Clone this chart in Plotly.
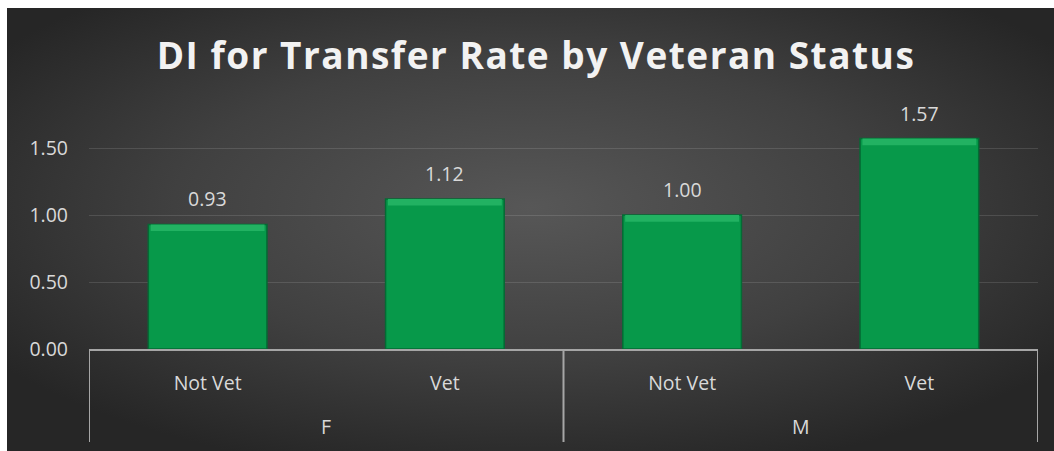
import base64
import plotly.graph_objects as go

# Chart data
groups = ["F", "F", "M", "M"]
statuses = ["Not Vet", "Vet", "Not Vet", "Vet"]
di_values = [0.93, 1.12, 1.00, 1.57]
y_ticks = [0.0, 0.5, 1.0, 1.5]
y_tick_text = ["0.00", "0.50", "1.00", "1.50"]
title_text = "DI for Transfer Rate by Veteran Status"

W, H = 1054, 451
L, R, T, B = 89, 16, 81, 102
plot_w = W - L - R
plot_h = H - T - B

BAR_GREEN = "#07994a"
BAR_EDGE = "#046b34"
BEVEL = "#22b262"
TEXT = "#d9d9d9"
AXIS_GRAY = "#a6a6a6"
FONT = "Open Sans"

# Radial-gradient backdrop for the dark chart panel
svg = (
    '<svg xmlns="http://www.w3.org/2000/svg" width="1047" height="443" '
    'viewBox="0 0 1047 443" preserveAspectRatio="none">'
    '<defs><radialGradient id="g" cx="50%" cy="45%" r="62%" fx="50%" fy="45%">'
    '<stop offset="0%" stop-color="#575757"/>'
    '<stop offset="55%" stop-color="#404040"/>'
    '<stop offset="100%" stop-color="#262626"/>'
    '</radialGradient></defs>'
    '<rect width="1047" height="443" fill="url(#g)"/></svg>'
)
bg_uri = "data:image/svg+xml;base64," + base64.b64encode(svg.encode()).decode()
panel_x0, panel_y0 = 7, 8

xs = list(range(len(di_values)))

fig = go.Figure()
fig.add_trace(go.Bar(
    x=xs, y=di_values, width=0.5,
    marker=dict(color=BAR_GREEN, line=dict(color=BAR_EDGE, width=1.5)),
    hoverinfo="skip", showlegend=False,
))
# Light bevel strip along the top of each bar
bevel_h = 0.05
fig.add_trace(go.Bar(
    x=xs, y=[bevel_h] * len(di_values),
    base=[v - bevel_h for v in di_values], width=0.48,
    marker=dict(color=BEVEL, line=dict(width=0)),
    hoverinfo="skip", showlegend=False,
))

# Value labels above bars
for x, v in zip(xs, di_values):
    fig.add_annotation(
        x=x, y=v, text=f"{v:.2f}", showarrow=False,
        yanchor="bottom", yshift=10,
        font=dict(family=FONT, size=19.5, color=TEXT),
    )

# Outer category level (group names) and the dividers between groups
divider_depth = 93 / plot_h
group_names = list(dict.fromkeys(groups))
edges = [-0.5]
for name in group_names:
    idx = [i for i, g in enumerate(groups) if g == name]
    fig.add_annotation(
        x=sum(idx) / len(idx), y=-77 / plot_h, xref="x", yref="paper",
        text=name, showarrow=False, yanchor="middle",
        font=dict(family=FONT, size=19.5, color=TEXT),
    )
    edges.append(max(idx) + 0.5)
for e in edges:
    fig.add_shape(
        type="line", xref="x", yref="paper",
        x0=e, x1=e, y0=0, y1=-divider_depth,
        line=dict(color=AXIS_GRAY, width=2),
    )

fig.update_layout(
    width=W, height=H,
    margin=dict(l=L, r=R, t=T, b=B),
    paper_bgcolor="white",
    plot_bgcolor="rgba(0,0,0,0)",
    barmode="overlay",
    title=dict(
        text=f'<span style="letter-spacing:1.5px">{title_text}</span>',
        x=536 / W, xanchor="center",
        y=1 - 56 / H, yanchor="middle",
        font=dict(family=FONT, size=37, weight=700, color="#f2f2f2"),
    ),
    images=[dict(
        source=bg_uri, xref="paper", yref="paper",
        x=(panel_x0 - L) / plot_w, y=(H - B - panel_y0) / plot_h,
        sizex=(W - panel_x0) / plot_w, sizey=(H - panel_y0) / plot_h,
        xanchor="left", yanchor="top", sizing="stretch", layer="below",
    )],
    xaxis=dict(
        range=[-0.5, len(xs) - 0.5],
        tickvals=xs, ticktext=statuses,
        tickfont=dict(family=FONT, size=19.5, color=TEXT),
        ticklabelstandoff=16,
        showline=True, linecolor=AXIS_GRAY, linewidth=2,
        ticks="", showgrid=False, zeroline=False,
    ),
    yaxis=dict(
        range=[0, 2.0],
        tickvals=y_ticks, ticktext=y_tick_text,
        tickfont=dict(family=FONT, size=19.5, color=TEXT),
        ticklabelstandoff=20,
        showgrid=True, gridcolor="rgba(255,255,255,0.12)", gridwidth=1,
        zeroline=False, showline=False, ticks="",
    ),
)

fig.write_html("out.html")
